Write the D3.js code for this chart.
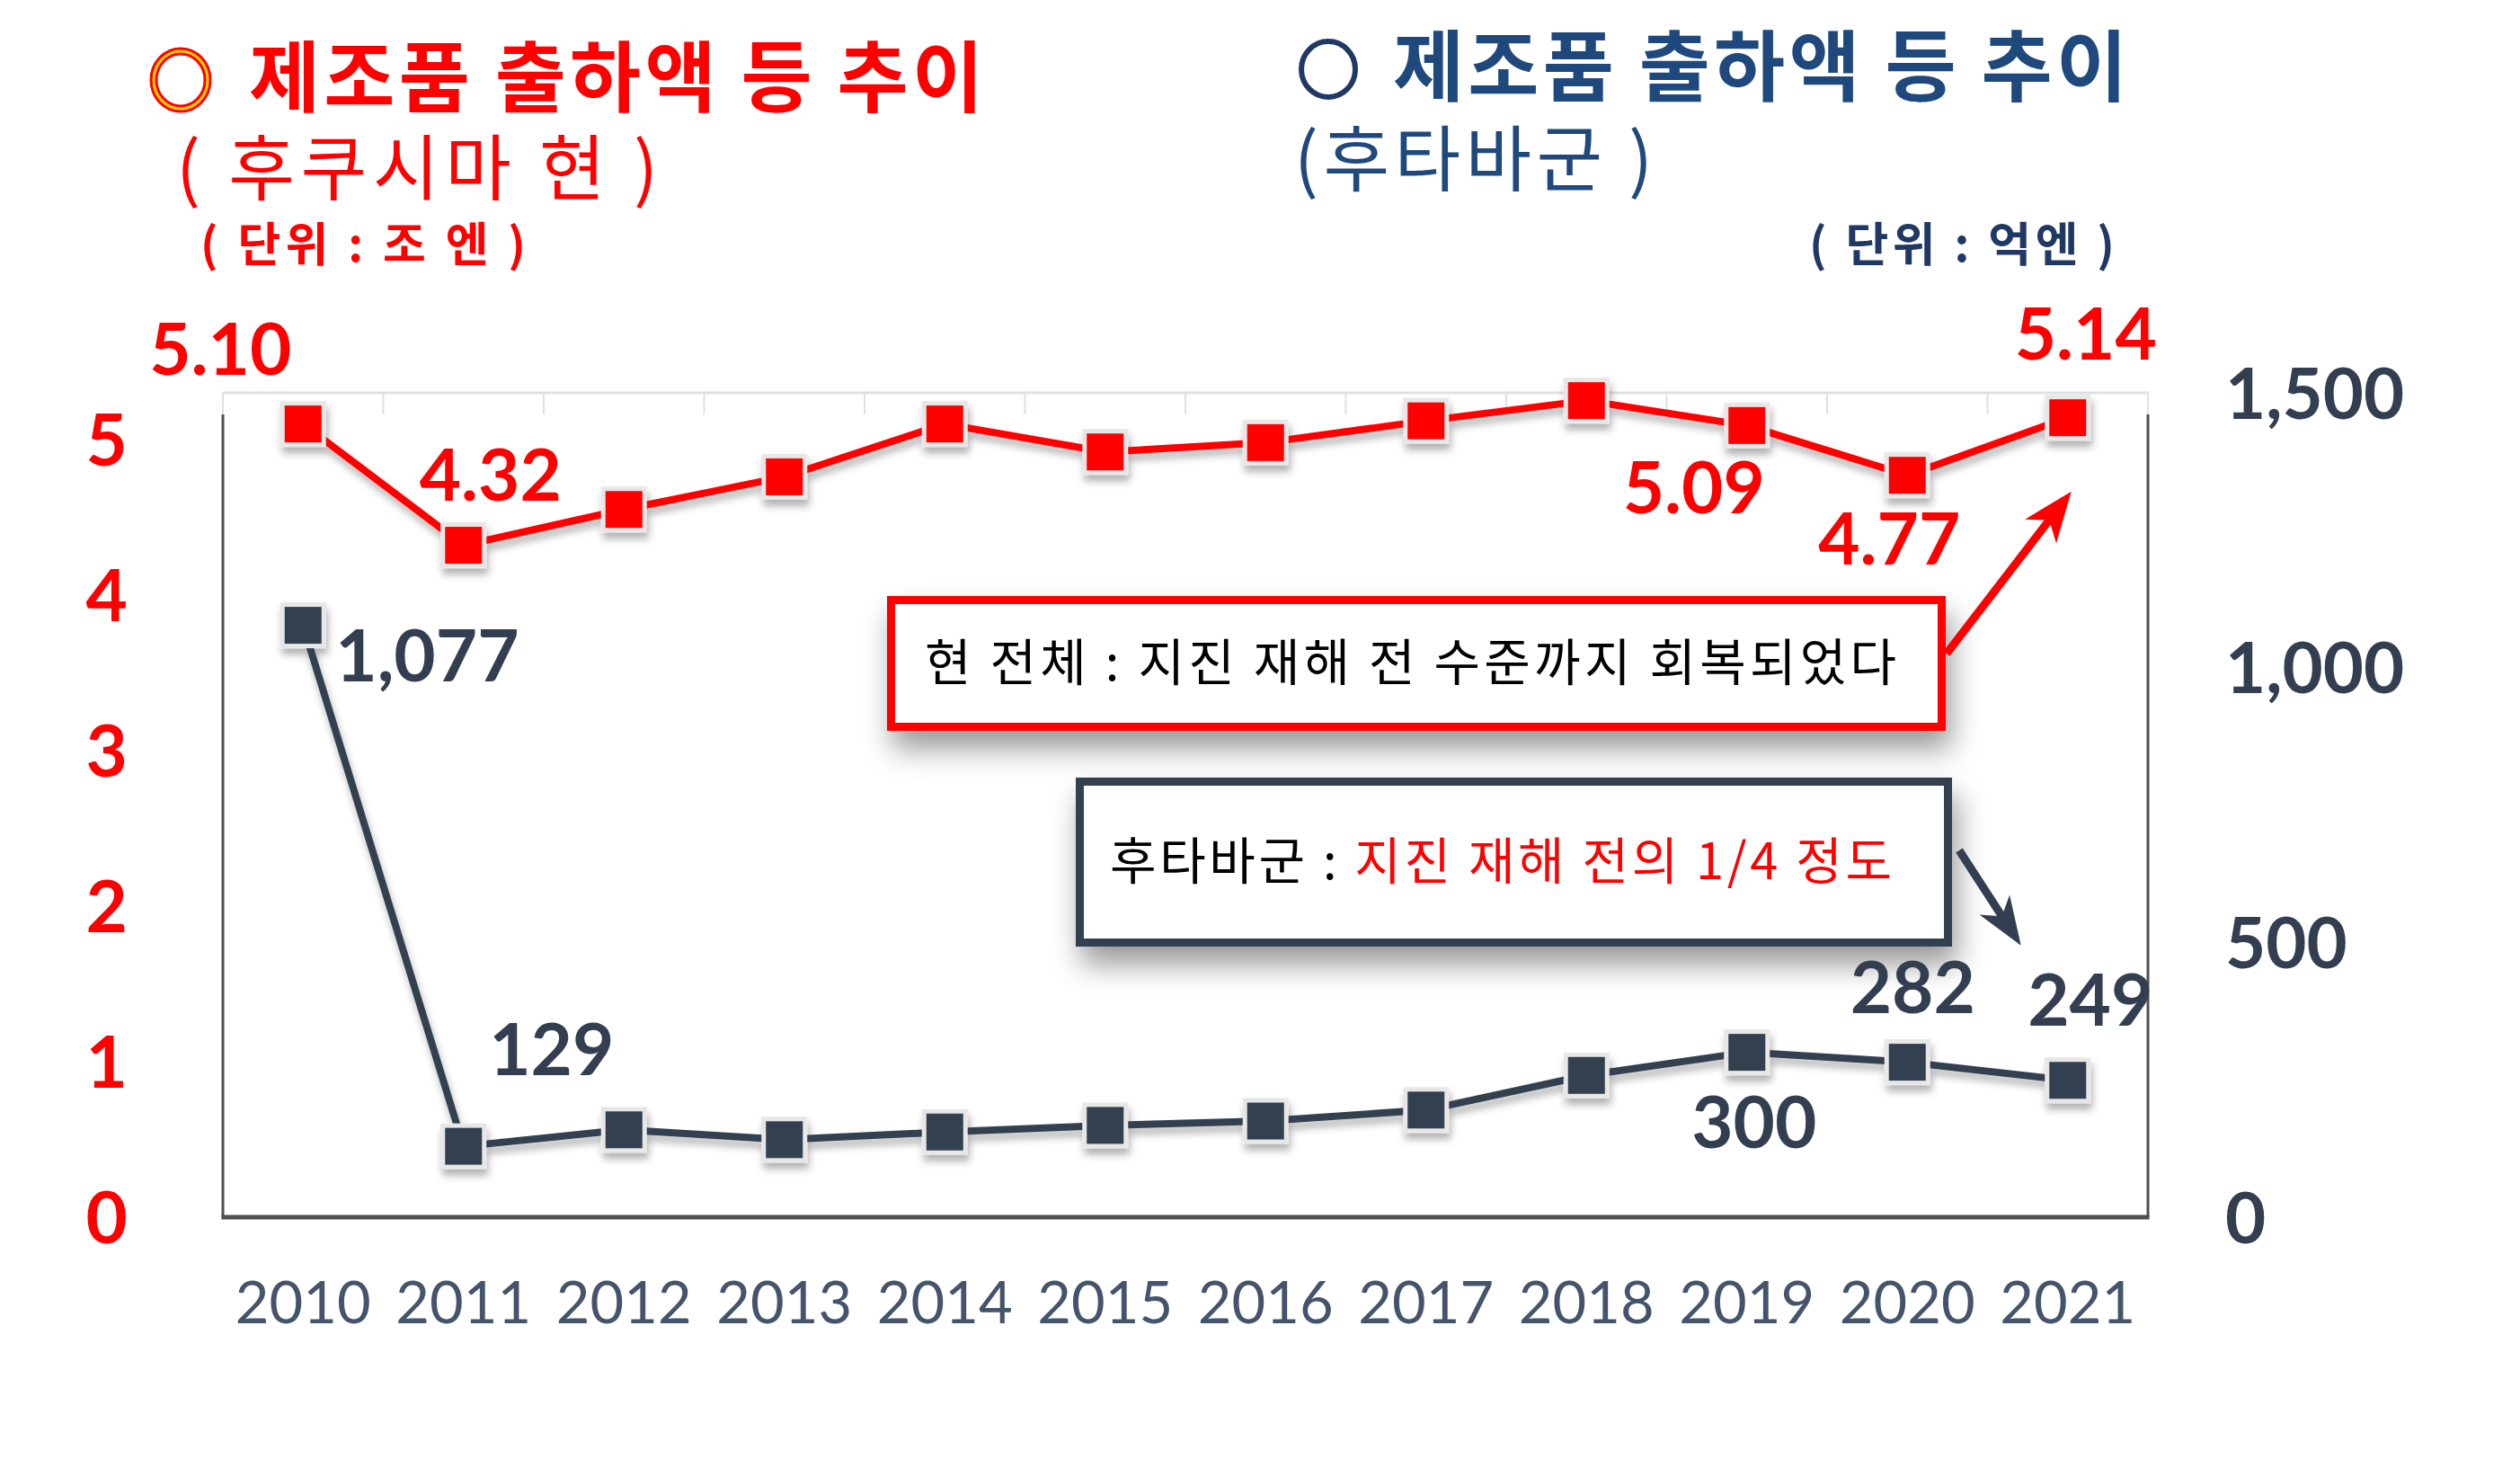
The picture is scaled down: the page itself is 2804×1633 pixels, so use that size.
<!DOCTYPE html>
<html>
<head>
<meta charset="utf-8">
<script src="https://cdn.jsdelivr.net/npm/d3@7"></script>
<style>
  html, body { margin: 0; padding: 0; background: #ffffff; }
  svg { display: block; }
</style>
</head>
<body>
<svg id="chart" width="2804" height="1633"></svg>
<script>
// ---------------- DATA ----------------
const years = ["2010","2011","2012","2013","2014","2015","2016","2017","2018","2019","2020","2021"];
// 후쿠시마 현 제조품 출하액 (조 엔)
const fukushimaValues = [5.10, 4.32, 4.55, 4.76, 5.10, 4.92, 4.98, 5.12, 5.25, 5.09, 4.77, 5.14];
// 후타바군 제조품 출하액 (억엔)
const futabaValues = [1077, 129, 159, 141, 155, 167, 175, 195, 258, 300, 282, 249];
const leftTicks = [0, 1, 2, 3, 4, 5];
const rightTicks = [0, 500, 1000, 1500];
const fukushimaLabelYears = ["2010", "2011", "2019", "2020", "2021"];
const futabaLabelYears = ["2010", "2011", "2019", "2020", "2021"];

// ---------------- LAYOUT / STYLE ----------------
const RED = "#ff0000";
const NAVY = "#333f50";
const BLUE = "#1f497d";
const AXIS = "#4f4f4f";
const NUMFONT = "Lato, 'Open Sans', sans-serif";
const KFONT = "'Noto Sans CJK KR', 'Noto Sans', sans-serif";

const plot = { left: 248, right: 2390, top: 437, bottom: 1354 };

// label offsets relative to the point (dx, baseline dy, anchor)
const redLabelPlace = {
  "2010": [-92, -55, "middle"], "2011": [30, -50, "middle"], "2019": [-59, 98, "middle"],
  "2020": [-20, 99, "middle"], "2021": [20, -65, "middle"]
};
const navyLabelPlace = {
  "2010": [36, 62, "start"], "2011": [98, -79, "middle"], "2019": [8, 106, "middle"],
  "2020": [6, -55, "middle"], "2021": [25, -61, "middle"]
};

const svg = d3.select("#chart");
const defs = svg.append("defs");

const f1 = defs.append("filter").attr("id", "markShadow")
  .attr("x", "-50%").attr("y", "-50%").attr("width", "200%").attr("height", "200%");
f1.append("feDropShadow").attr("dx", 2).attr("dy", 7).attr("stdDeviation", 4)
  .attr("flood-color", "#000").attr("flood-opacity", 0.3);

const f2 = defs.append("filter").attr("id", "boxShadow")
  .attr("x", "-20%").attr("y", "-60%").attr("width", "140%").attr("height", "220%");
f2.append("feDropShadow").attr("dx", 6).attr("dy", 20).attr("stdDeviation", 16)
  .attr("flood-color", "#000").attr("flood-opacity", 0.4);

// ---------------- SCALES ----------------
const x = d3.scaleBand().domain(years).range([plot.left, plot.right]);
const cx = d => x(d) + x.bandwidth() / 2;
const yL = d3.scaleLinear().domain([0, 5.3]).range([plot.bottom, plot.top]);
const yR = d3.scaleLinear().domain([0, 1500]).range([plot.bottom, plot.top]);

// ---------------- FRAME ----------------
const frame = svg.append("g");
frame.append("line").attr("x1", plot.left).attr("x2", plot.right + 1)
  .attr("y1", plot.top).attr("y2", plot.top)
  .attr("stroke", "#dde1e6").attr("stroke-width", 3);
// light ticks hanging from the top edge at category boundaries
const boundaries = years.map(d => x(d)).concat([plot.right]);
frame.selectAll("line.tk").data(boundaries).join("line").attr("class", "tk")
  .attr("x1", d => d).attr("x2", d => d)
  .attr("y1", plot.top).attr("y2", plot.top + 24)
  .attr("stroke", "#dde1e6").attr("stroke-width", 2);
frame.append("line").attr("x1", plot.left).attr("x2", plot.left)
  .attr("y1", plot.top + 24).attr("y2", plot.bottom)
  .attr("stroke", AXIS).attr("stroke-width", 3);
frame.append("line").attr("x1", plot.right).attr("x2", plot.right)
  .attr("y1", plot.top + 24).attr("y2", plot.bottom)
  .attr("stroke", AXIS).attr("stroke-width", 3);
frame.append("line").attr("x1", plot.left - 1.5).attr("x2", plot.right + 1.5)
  .attr("y1", plot.bottom).attr("y2", plot.bottom)
  .attr("stroke", AXIS).attr("stroke-width", 5);

// ---------------- AXES ----------------
const axL = svg.append("g").attr("transform", `translate(${plot.left},0)`)
  .call(d3.axisLeft(yL).tickValues(leftTicks).tickSize(0).tickPadding(106).tickFormat(d3.format("d")));
axL.select(".domain").remove();
axL.selectAll("text").attr("fill", RED).attr("font-family", NUMFONT)
  .attr("font-weight", 700).attr("font-size", 80).attr("dy", "0.36em");

const axR = svg.append("g").attr("transform", `translate(${plot.right},0)`)
  .call(d3.axisRight(yR).tickValues(rightTicks).tickSize(0).tickPadding(86).tickFormat(d3.format(",")));
axR.select(".domain").remove();
axR.selectAll("text").attr("fill", NAVY).attr("font-family", NUMFONT)
  .attr("font-weight", 700).attr("font-size", 78).attr("dy", "0.36em");

const axB = svg.append("g").attr("transform", `translate(0,${plot.bottom})`)
  .call(d3.axisBottom(x).tickSize(0));
axB.select(".domain").remove();
axB.selectAll("text").attr("fill", "#44546a").attr("font-family", NUMFONT)
  .attr("font-weight", 400).attr("font-size", 65).attr("y", 118).attr("dy", 0);

// ---------------- ANNOTATION BOXES ----------------
const boxes = svg.append("g");
boxes.append("rect").attr("x", 991.5).attr("y", 667.5).attr("width", 1169).attr("height", 141)
  .attr("fill", "#fff").attr("stroke", RED).attr("stroke-width", 9).attr("filter", "url(#boxShadow)");
boxes.append("rect").attr("x", 1201.5).attr("y", 869.5).attr("width", 966).attr("height", 179)
  .attr("fill", "#fff").attr("stroke", NAVY).attr("stroke-width", 9).attr("filter", "url(#boxShadow)");

boxes.append("text").attr("x", 1029).attr("y", 737).attr("dy", "0.36em")
  .attr("font-family", KFONT).attr("font-size", 56).attr("fill", "#000")
  .attr("textLength", 1081).attr("lengthAdjust", "spacing")
  .text("현 전체 : 지진 재해 전 수준까지 회복되었다");
const t2 = boxes.append("text").attr("x", 1235).attr("y", 958).attr("dy", "0.36em")
  .attr("font-family", KFONT).attr("font-size", 56)
  .attr("textLength", 870).attr("lengthAdjust", "spacing");
t2.append("tspan").attr("fill", "#000").text("후타바군 : ");
t2.append("tspan").attr("fill", RED).text("지진 재해 전의 1/4 정도");

// arrows
function arrow(g, x1, y1, x2, y2, color, w, headL, headW) {
  const a = Math.atan2(y2 - y1, x2 - x1);
  const ux = Math.cos(a), uy = Math.sin(a), px = -uy, py = ux;
  const bx = x2 - ux * headL, by = y2 - uy * headL;
  g.append("line").attr("x1", x1).attr("y1", y1)
    .attr("x2", x2 - ux * headL * 0.6).attr("y2", y2 - uy * headL * 0.6)
    .attr("stroke", color).attr("stroke-width", w);
  const nx = x2 - ux * headL * 0.72, ny = y2 - uy * headL * 0.72;
  g.append("path").attr("d",
    `M${x2},${y2} L${bx + px * headW / 2},${by + py * headW / 2} L${nx},${ny} L${bx - px * headW / 2},${by - py * headW / 2} Z`)
    .attr("fill", color);
}
const arrows = svg.append("g");
arrow(arrows, 2166, 727, cx("2021") + 4, yL(5.14) + 82, RED, 9, 56, 44);
arrow(arrows, 2180, 946, cx("2021") - 52, yR(249) - 150, NAVY, 9, 54, 40);

// ---------------- SERIES ----------------
const series = svg.append("g").attr("filter", "url(#markShadow)");
const line = (ys) => d3.line().x((d, i) => cx(years[i])).y(d => ys(d));

series.append("path").datum(futabaValues).attr("d", line(yR))
  .attr("fill", "none").attr("stroke", NAVY).attr("stroke-width", 8).attr("stroke-linejoin", "round");
series.append("path").datum(fukushimaValues).attr("d", line(yL))
  .attr("fill", "none").attr("stroke", RED).attr("stroke-width", 8).attr("stroke-linejoin", "round");

const MS = 46;
series.selectAll("rect.nv").data(futabaValues).join("rect").attr("class", "nv")
  .attr("x", (d, i) => cx(years[i]) - MS / 2).attr("y", d => yR(d) - MS / 2)
  .attr("width", MS).attr("height", MS)
  .attr("fill", NAVY).attr("stroke", "#e8e7e7").attr("stroke-width", 5);
series.selectAll("rect.rd").data(fukushimaValues).join("rect").attr("class", "rd")
  .attr("x", (d, i) => cx(years[i]) - MS / 2).attr("y", d => yL(d) - MS / 2)
  .attr("width", MS).attr("height", MS)
  .attr("fill", RED).attr("stroke", "#e8e7e7").attr("stroke-width", 5);

// ---------------- DATA LABELS ----------------
const lbl = svg.append("g").attr("font-family", NUMFONT).attr("font-weight", 700).attr("font-size", 80);
lbl.selectAll("text.rl").data(fukushimaLabelYears).join("text").attr("class", "rl")
  .attr("x", d => cx(d) + redLabelPlace[d][0])
  .attr("y", d => yL(fukushimaValues[years.indexOf(d)]) + redLabelPlace[d][1])
  .attr("text-anchor", d => redLabelPlace[d][2])
  .attr("fill", RED)
  .text(d => d3.format(".2f")(fukushimaValues[years.indexOf(d)]));
lbl.selectAll("text.nl").data(futabaLabelYears).join("text").attr("class", "nl")
  .attr("x", d => cx(d) + navyLabelPlace[d][0])
  .attr("y", d => yR(futabaValues[years.indexOf(d)]) + navyLabelPlace[d][1])
  .attr("text-anchor", d => navyLabelPlace[d][2])
  .attr("fill", NAVY)
  .text(d => d3.format(",")(futabaValues[years.indexOf(d)]));

// ---------------- TITLES ----------------
const tg = svg.append("g").attr("font-family", KFONT);
// ◎ symbol (red double circle with yellow inner ring)
tg.append("ellipse").attr("cx", 201).attr("cy", 89).attr("rx", 30).attr("ry", 32)
  .attr("fill", "none").attr("stroke", RED).attr("stroke-width", 9);
tg.append("ellipse").attr("cx", 201).attr("cy", 89).attr("rx", 30).attr("ry", 32)
  .attr("fill", "none").attr("stroke", "#ffd200").attr("stroke-width", 3);
tg.append("text").attr("x", 277).attr("y", 87).attr("dy", "0.36em")
  .attr("font-weight", 700).attr("font-size", 86).attr("fill", RED)
  .attr("textLength", 817).attr("lengthAdjust", "spacing")
  .text("제조품 출하액 등 추이");
tg.append("text").attr("x", 196).attr("y", 187).attr("dy", "0.36em")
  .attr("font-weight", 400).attr("font-size", 80).attr("fill", RED)
  .attr("textLength", 536).attr("lengthAdjust", "spacing")
  .text("( 후쿠시마 현 )");
tg.append("text").attr("x", 223).attr("y", 272).attr("dy", "0.36em")
  .attr("font-weight", 700).attr("font-size", 52).attr("fill", RED)
  .attr("textLength", 362).attr("lengthAdjust", "spacing")
  .text("( 단위 : 조 엔 )");

// ○ symbol
tg.append("ellipse").attr("cx", 1478).attr("cy", 77).attr("rx", 30).attr("ry", 31)
  .attr("fill", "none").attr("stroke", "#1f3864").attr("stroke-width", 6);
tg.append("text").attr("x", 1550).attr("y", 75).attr("dy", "0.36em")
  .attr("font-weight", 700).attr("font-size", 86).attr("fill", BLUE)
  .attr("textLength", 817).attr("lengthAdjust", "spacing")
  .text("제조품 출하액 등 추이");
tg.append("text").attr("x", 1440).attr("y", 177).attr("dy", "0.36em")
  .attr("font-weight", 400).attr("font-size", 80).attr("fill", BLUE)
  .attr("textLength", 399).attr("lengthAdjust", "spacing")
  .text("(후타바군 )");
tg.append("text").attr("x", 2013).attr("y", 272).attr("dy", "0.36em")
  .attr("font-weight", 700).attr("font-size", 52).attr("fill", "#203864")
  .attr("textLength", 340).attr("lengthAdjust", "spacing")
  .text("( 단위 : 억엔 )");
</script>
</body>
</html>
